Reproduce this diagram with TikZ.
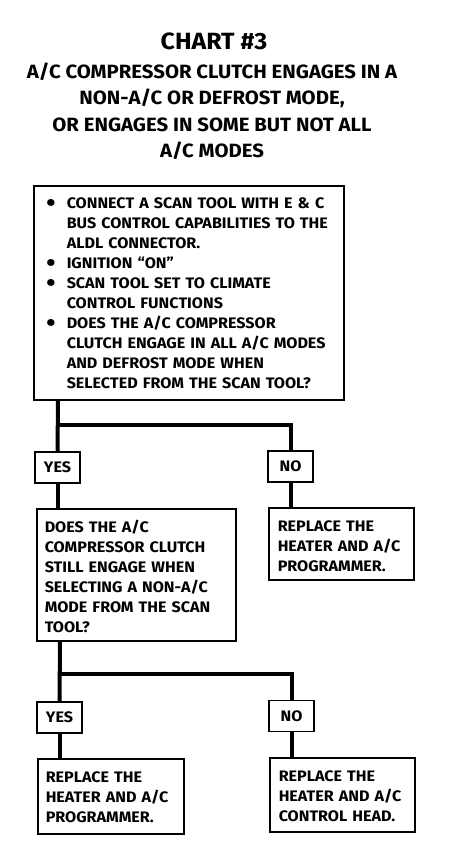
\documentclass[tikz,border=0pt]{standalone}
\usepackage{fontspec}
\setmainfont[FakeStretch=1.06]{Fira Sans}
\usetikzlibrary{positioning}
\newcommand{\boxfont}{\fontsize{15.2}{20}\bfseries\selectfont}
\newcommand{\bul}{\makebox[21pt][l]{\hspace*{0.5pt}\raisebox{-3.2pt}[0pt][0pt]{\fontsize{25}{20}\selectfont\textbullet}}}
\newcommand{\ind}{\hspace*{21pt}}

\begin{document}
\begin{tikzpicture}[x=1pt,y=-1pt]%chart 3

      \tikzstyle{chartbox}=[draw,line width=1.5pt,anchor=north west,align=left,
      			  inner xsep=9pt,inner ysep=0pt,text height=24pt,font=\boxfont]
      \tikzstyle{answer}=[draw,line width=1.5pt,minimum width=45pt,minimum height=31pt,
      			  inner sep=0pt,font=\boxfont]
      \tikzstyle{flow}=[line width=4pt]

      \useasboundingbox (0,0) rectangle (448,848);

      %Heading
      \node [anchor=base,font=\fontsize{23.5}{26}\bfseries\selectfont] (title) at (214,50) {CHART \#3};
      \node [anchor=north,align=center,font=\fontsize{19.2}{26.2}\bfseries\selectfont] (subtitle) at (212,59.5)
        {A/C COMPRESSOR CLUTCH ENGAGES IN A\\
         NON-A/C OR DEFROST MODE,\\
         OR ENGAGES IN SOME BUT NOT ALL\\
         A/C MODES};

      %Boxes
      \node [chartbox,inner xsep=12pt,text width=286pt,text height=23pt,text depth=191pt] (check) at (33,185)
        {\bul CONNECT A SCAN TOOL WITH E \& C\\
         \ind BUS CONTROL CAPABILITIES TO THE\\
         \ind ALDL CONNECTOR.\\
         \bul IGNITION “ON”\\
         \bul SCAN TOOL SET TO CLIMATE\\
         \ind CONTROL FUNCTIONS\\
         \bul DOES THE A/C COMPRESSOR\\
         \ind CLUTCH ENGAGE IN ALL A/C MODES\\
         \ind AND DEFROST MODE WHEN\\
         \ind SELECTED FROM THE SCAN TOOL?};
      \node [chartbox,inner xsep=8pt,text width=183pt,text depth=108pt] (still) at (36,508)
        {DOES THE A/C\\
         COMPRESSOR CLUTCH\\
         STILL ENGAGE WHEN\\
         SELECTING A NON-A/C\\
         MODE FROM THE SCAN\\
         TOOL?};
      \node [chartbox,text width=127pt,text depth=48pt] (prog1) at (268,507)
        {REPLACE THE\\ HEATER AND A/C\\ PROGRAMMER.};
      \node [chartbox,inner xsep=8pt,text width=130pt,text depth=51pt] (prog2) at (37,758)
        {REPLACE THE\\ HEATER AND A/C\\ PROGRAMMER.};
      \node [chartbox,text width=127pt,text depth=50pt] (head) at (269,757)
        {REPLACE THE\\ HEATER AND A/C\\ CONTROL HEAD.};

      %Yes / no
      \node [answer] (yes1) at (57.5,467.5) {YES};
      \node [answer] (no1)  at (290.5,466.5) {NO};
      \node [answer] (yes2) at (59.5,717.5) {YES};
      \node [answer] (no2)  at (291.5,716) {NO};

      \coordinate (fork1) at (58,425);
      \coordinate (fork2) at (60,674);

      %Lines
      \draw [flow] (check.south -| fork1) -- (yes1.north);
      \draw [flow] (fork1) -| (no1.north);
      \draw [flow] (yes1.south) -- (yes1.south |- still.north);
      \draw [flow] (no1.south) -- (no1.south |- prog1.north);
      \draw [flow] (still.south -| fork2) -- (yes2.north);
      \draw [flow] (fork2) -| (no2.north);
      \draw [flow] (yes2.south) -- (yes2.south |- prog2.north);
      \draw [flow] (no2.south) -- (no2.south |- head.north);

\end{tikzpicture}
\end{document}
